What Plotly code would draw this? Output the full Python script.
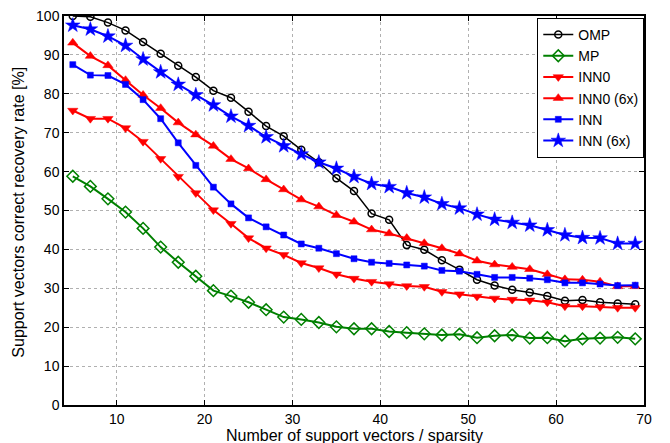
import plotly.graph_objects as go

sparsity = list(range(5, 70, 2))

omp = [100, 99.8, 98.3, 96.3, 93.3, 90.3, 87.2, 84.3, 80.8, 79.0, 75.4, 71.7, 69.1, 65.6, 62.4, 58.3,
       55.0, 49.2, 47.6, 41.1, 39.9, 37.2, 34.8, 32.2, 30.7, 29.6, 28.9, 28.0, 26.8, 27.0, 26.4, 26.1, 25.9]
mp = [58.8, 56.2, 53.0, 49.6, 45.4, 40.6, 36.7, 33.1, 29.4, 28.0, 26.4, 24.5, 22.6, 22.0, 21.2, 20.1,
      19.6, 19.6, 18.9, 18.6, 18.3, 18.0, 18.2, 17.3, 17.8, 18.0, 17.2, 17.3, 16.4, 17.0, 17.2, 17.4, 17.0]
inn0 = [75.7, 73.6, 73.6, 71.2, 67.7, 63.3, 58.7, 54.5, 50.1, 46.6, 42.9, 40.3, 38.6, 36.5, 35.2, 33.6,
        32.5, 31.7, 31.1, 30.6, 30.4, 29.1, 28.5, 27.9, 27.4, 27.1, 26.9, 26.4, 25.4, 25.4, 25.2, 25.0, 25.0]
inn0_6x = [93.1, 89.7, 87.3, 83.5, 79.7, 76.3, 72.6, 69.5, 66.6, 63.2, 60.8, 58.0, 55.4, 52.8, 51.0, 48.8,
           47.1, 45.1, 44.1, 42.9, 41.6, 40.3, 38.9, 37.1, 36.1, 35.5, 34.9, 33.6, 32.3, 32.2, 31.7, 30.5, 30.5]
inn = [87.5, 84.8, 84.7, 82.4, 78.5, 73.6, 67.4, 61.6, 56.0, 51.7, 48.1, 45.8, 43.7, 41.4, 40.3, 38.9,
       37.6, 36.7, 36.4, 36.0, 35.7, 34.6, 34.4, 33.6, 32.8, 32.8, 32.6, 32.2, 31.4, 31.4, 31.1, 30.7, 30.8]
inn_6x = [97.6, 96.6, 94.8, 92.4, 88.9, 85.6, 82.4, 79.7, 77.1, 74.2, 71.8, 68.9, 66.6, 64.5, 62.4, 60.8,
          58.7, 56.9, 56.1, 54.5, 53.4, 51.7, 50.6, 49.0, 47.7, 46.9, 46.2, 45.0, 43.7, 43.0, 42.9, 41.5, 41.5]

x_ticks = [0, 10, 20, 30, 40, 50, 60, 70]
y_ticks = [0, 10, 20, 30, 40, 50, 60, 70, 80, 90, 100]
x_title = "Number of support vectors / sparsity"
y_title = "Support vectors correct recovery rate [%]"

series = [
    ("OMP", omp, "black", "circle-open", 7, 1.5),
    ("MP", mp, "green", "diamond-open", 9, 2),
    ("INN0", inn0, "red", "triangle-down", 9, 2),
    ("INN0 (6x)", inn0_6x, "red", "triangle-up", 9, 2),
    ("INN", inn, "blue", "square", 6, 2),
    ("INN (6x)", inn_6x, "blue", "star", 11, 2),
]

fig = go.Figure()
for name, vals, color, sym, size, lw in series:
    fig.add_trace(go.Scatter(
        x=sparsity, y=vals, name=name, mode="lines+markers",
        line=dict(color=color, width=lw),
        marker=dict(symbol=sym, size=size, color=color,
                    line=dict(color=color, width=1.5 if "open" in sym else 0.5)),
    ))

axis_common = dict(
    showline=True, linecolor="black", linewidth=1.5, mirror="ticks",
    ticks="inside", ticklen=5, tickcolor="black",
    showgrid=True, gridcolor="#b0b0b0", griddash="dot", gridwidth=1,
    zeroline=False, tickfont=dict(size=14, color="black"), automargin=False,
    ticklabeloverflow="allow",
)

fig.update_xaxes(range=[4, 70], tickvals=x_ticks, **axis_common)
fig.update_yaxes(range=[0, 100], tickvals=y_ticks, **axis_common)

# page body has an 8px default margin; compensate so the plot area lands where the reference's does
top_m, bot_m = 8, 38
plot_h = 435 - top_m - bot_m

fig.add_annotation(text=x_title, xref="paper", yref="paper", x=0.5, y=-30.5 / plot_h,
                   xanchor="center", yanchor="middle", showarrow=False,
                   font=dict(size=16, color="black"))
fig.add_annotation(text=y_title, xref="paper", yref="paper", x=-0.079, y=0.495,
                   xanchor="center", yanchor="middle", showarrow=False, textangle=-90,
                   font=dict(size=16, color="black"))

fig.update_layout(
    width=662, height=435,
    margin=dict(l=56, r=26, t=top_m, b=bot_m),
    paper_bgcolor="white", plot_bgcolor="white",
    font=dict(family="Liberation Sans, Arial, sans-serif", color="black"),
    legend=dict(x=0.816, y=0.995, xanchor="left", yanchor="top",
                bgcolor="white", bordercolor="black", borderwidth=1,
                font=dict(size=14), itemwidth=30, tracegroupgap=0),
)

fig.write_html("out.html")
